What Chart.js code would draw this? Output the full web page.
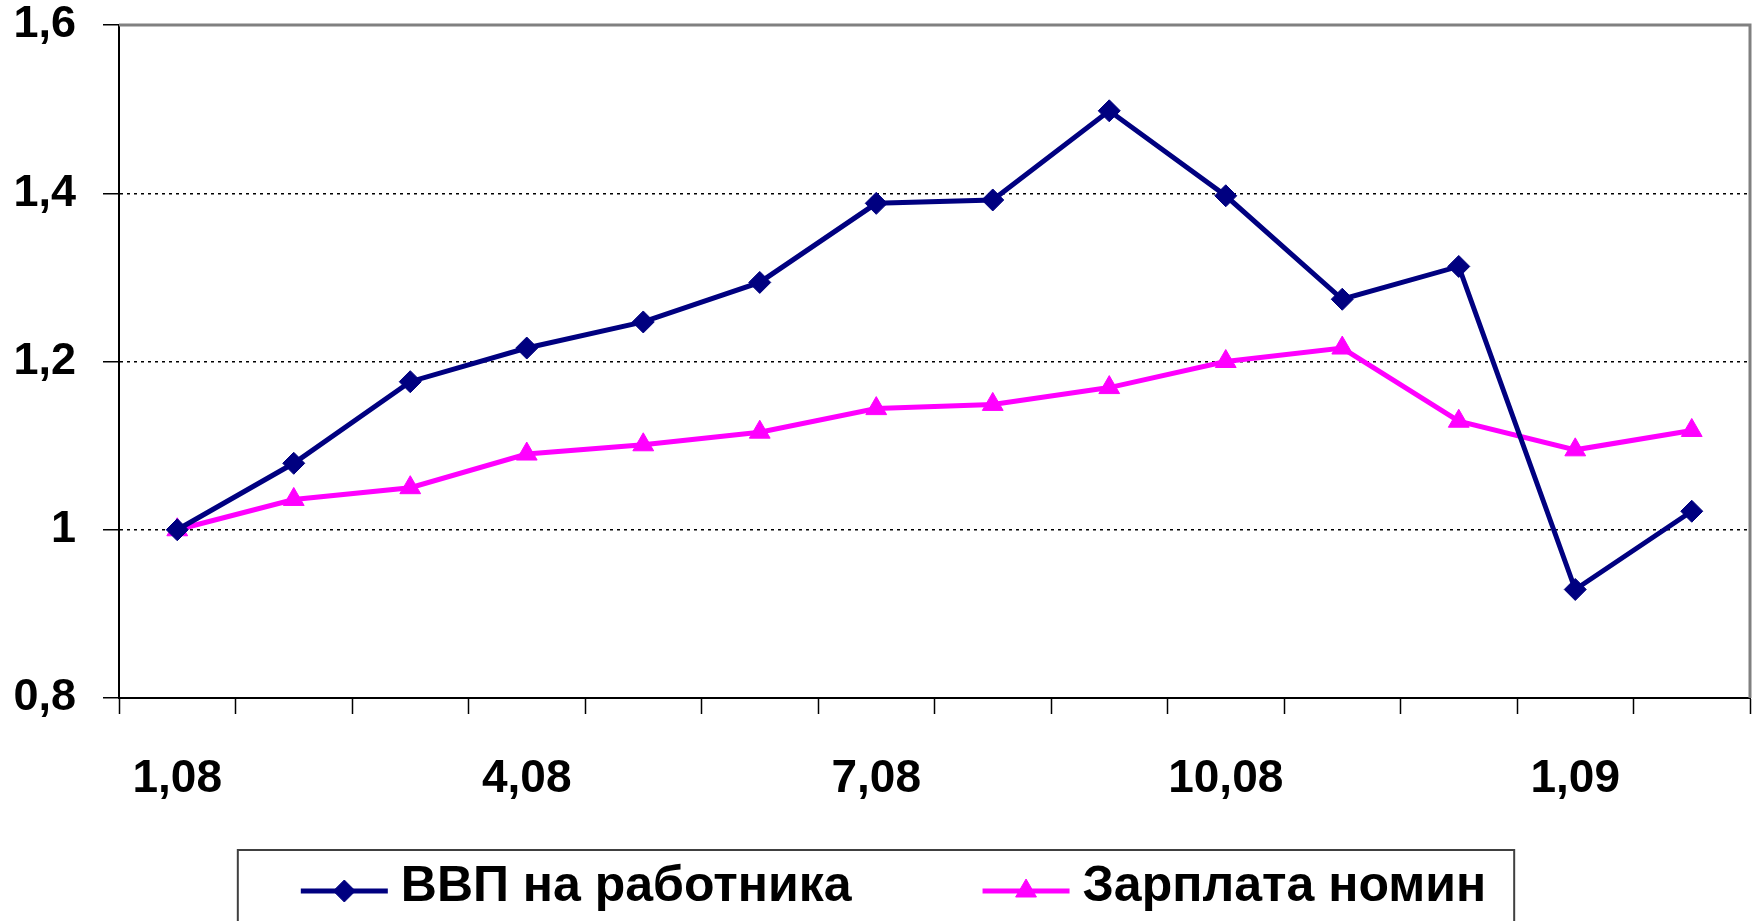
<!DOCTYPE html>
<html>
<head>
<meta charset="utf-8">
<script src="https://cdn.jsdelivr.net/npm/chart.js@4.4.1/dist/chart.umd.min.js"></script>
<style>
  html, body { margin: 0; padding: 0; background: #fff; overflow: hidden; }
  #wrap { width: 1763px; height: 921px; position: relative; }
</style>
</head>
<body>
<div id="wrap"><canvas id="chart"></canvas></div>
<script>
const months = ['1,08', '2,08', '3,08', '4,08', '5,08', '6,08', '7,08',
                '8,08', '9,08', '10,08', '11,08', '12,08', '1,09', '2,09'];
const gdpPerWorker = [1.0, 1.079, 1.176, 1.216, 1.247, 1.294, 1.388,
                      1.392, 1.498, 1.397, 1.274, 1.313, 0.929, 1.022];
const wageNominal = [1.0, 1.036, 1.05, 1.09, 1.101, 1.116, 1.144,
                     1.149, 1.169, 1.2, 1.216, 1.129, 1.095, 1.118];
const seriesNames = ['ВВП на работника', 'Зарплата номин'];
const yTicks = [0.8, 1, 1.2, 1.4, 1.6];
const yTickText = ['0,8', '1', '1,2', '1,4', '1,6'];

const FONT = "'Liberation Sans', Arial, sans-serif";

// grey frame on top and right of the plot
const framePlugin = {
  id: 'frame',
  afterDraw(chart) {
    const { ctx, chartArea: a } = chart;
    ctx.save();
    ctx.strokeStyle = '#808080';
    ctx.lineWidth = 3;
    ctx.beginPath();
    ctx.moveTo(a.left, a.top);
    ctx.lineTo(a.right, a.top);
    ctx.lineTo(a.right, a.bottom);
    ctx.stroke();
    ctx.restore();
  }
};

// excel style legend: line + marker, boxed
const boxLegend = {
  id: 'boxLegend',
  afterDraw(chart) {
    const ctx = chart.ctx;
    const sets = chart.data.datasets;
    const lineW = 87, gapText = 13, gapItem = 131;
    ctx.save();
    ctx.font = 'bold 50px ' + FONT;
    const widths = sets.map(d => ctx.measureText(d.label).width);
    const total = sets.length * (lineW + gapText) + widths.reduce((a, b) => a + b, 0) + gapItem * (sets.length - 1);
    let x = chart.width / 2 + 12 - total / 2;
    const y = chart.chartArea.bottom + 193;

    ctx.strokeStyle = '#404040';
    ctx.lineWidth = 2;
    ctx.strokeRect(x - 63, chart.chartArea.bottom + 152, total + 91, 120);

    sets.forEach((d, i) => {
      ctx.strokeStyle = d.borderColor;
      ctx.lineWidth = d.borderWidth;
      ctx.beginPath();
      ctx.moveTo(x, y);
      ctx.lineTo(x + lineW, y);
      ctx.stroke();
      ctx.fillStyle = d.pointBackgroundColor;
      ctx.strokeStyle = d.pointBorderColor;
      ctx.lineWidth = 1;
      Chart.helpers.drawPoint(ctx, { pointStyle: d.pointStyle, radius: d.pointRadius, borderWidth: 1, rotation: 0 }, x + lineW / 2, y);
      ctx.fillStyle = '#000';
      ctx.textBaseline = 'middle';
      ctx.textAlign = 'left';
      ctx.fillText(d.label, x + lineW + gapText, y - 4);
      x += lineW + gapText + widths[i] + gapItem;
    });
    ctx.restore();
  }
};

const ctxt = document.getElementById('chart').getContext('2d');

const myChart = new Chart(ctxt, {
  type: 'line',
  data: {
    labels: months,
    datasets: [
      {
        label: seriesNames[0],
        data: gdpPerWorker,
        borderColor: '#000080',
        backgroundColor: '#000080',
        borderWidth: 5,
        pointStyle: 'rectRot',
        pointRadius: 11,
        pointBackgroundColor: '#000080',
        pointBorderColor: '#000080',
        pointBorderWidth: 1,
        tension: 0
      },
      {
        label: seriesNames[1],
        data: wageNominal,
        borderColor: '#FF00FF',
        backgroundColor: '#FF00FF',
        borderWidth: 5,
        pointStyle: 'triangle',
        pointRadius: 12,
        pointBackgroundColor: '#FF00FF',
        pointBorderColor: '#FF00FF',
        pointBorderWidth: 1,
        tension: 0
      }
    ]
  },
  options: {
    responsive: true,
    maintainAspectRatio: false,
    animation: false,
    layout: { padding: { top: 25, right: 4, left: 0, bottom: 0 } },
    plugins: {
      legend: { display: false },
      tooltip: { enabled: false }
    },
    scales: {
      x: {
        offset: true,
        grid: { offset: true, drawOnChartArea: false, drawTicks: true, tickLength: 16, tickColor: '#000', tickWidth: 1.5 },
        border: { color: '#000', width: 2 },
        ticks: {
          autoSkip: false,
          maxRotation: 0,
          padding: 38,
          color: '#000',
          font: { family: FONT, size: 46, weight: 'bold' },
          callback: (v, i) => (i % 3 === 0 ? months[i] : '')
        },
        afterFit: s => { s.height = 223; s.paddingLeft = 0; s.paddingRight = 0; }
      },
      y: {
        min: 0.8,
        max: 1.6,
        afterBuildTicks: s => { s.ticks = yTicks.map(v => ({ value: v })); },
        grid: { color: '#000', lineWidth: 1.5, drawTicks: true, tickLength: 16, tickColor: '#000', tickWidth: 1.5 },
        border: { color: '#000', width: 2, dash: [3, 4] },
        ticks: {
          padding: 27,
          color: '#000',
          font: { family: FONT, size: 45, weight: 'bold', lineHeight: 1.1 },
          callback: (v, i) => yTickText[i]
        },
        afterFit: s => { s.width = 119; s.paddingTop = 0; s.paddingBottom = 0; }
      }
    }
  },
  plugins: [framePlugin, boxLegend]
});
</script>
</body>
</html>
